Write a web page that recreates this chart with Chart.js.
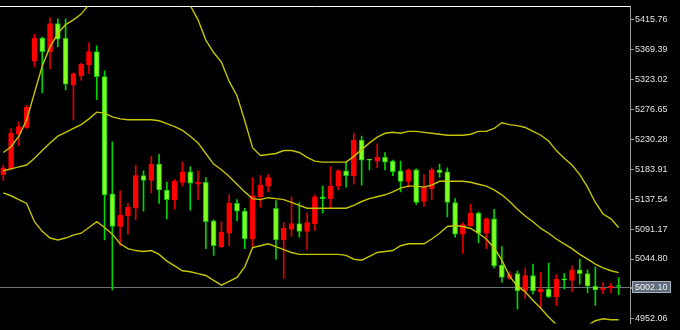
<!DOCTYPE html>
<html><head><meta charset="utf-8">
<script src="https://cdn.jsdelivr.net/npm/chart.js@4"></script>
<style>html,body{margin:0;padding:0;background:#000;overflow:hidden}
#wrap{width:680px;height:330px;position:relative}</style>
</head><body><div id="wrap"><canvas id="c" width="680" height="330"></canvas></div>
<script>
const opens = [5175.70,5184.65,5238.33,5248.76,5351.64,5387.43,5366.55,5409.79,5387.43,5314.37,
5329.28,5345.68,5366.55,5327.79,5145.88,5095.19,5111.59,5123.52,5174.21,5166.76,
5192.11,5151.85,5136.94,5163.78,5180.18,5160.79,5163.78,5104.14,5063.88,5084.75,
5130.97,5119.05,5075.81,5141.41,5157.81,5123.52,5074.32,5090.72,5099.66,5087.74,
5099.66,5141.41,5138.43,5157.81,5181.67,5174.21,5229.38,5198.82,5196.58,5202.54,
5196.58,5181.67,5165.27,5183.16,5133.96,5153.34,5183.16,5180.18,5132.47,5083.26,
5096.68,5116.06,5084.75,5107.12,5035.55,5014.68,5022.13,4995.29,5019.15,4993.80,
4998.28,4986.35,5013.19,5011.69,5028.10,5022.13,5002.75,4996.78,4999.77,5003.20];
const highs = [5190.61,5247.27,5257.71,5283.06,5393.39,5388.92,5418.74,5417.25,5417.25,5333.75,
5348.66,5379.97,5375.50,5336.73,5226.40,5150.36,5130.97,5190.61,5181.67,5204.03,
5207.02,5163.78,5168.25,5195.09,5187.63,5181.67,5171.23,5105.63,5102.65,5144.39,
5136.94,5123.52,5171.23,5174.21,5175.70,5135.45,5101.15,5141.41,5132.47,5116.06,
5144.39,5157.81,5187.63,5183.16,5195.09,5239.82,5235.34,5199.56,5223.42,5210.00,
5198.07,5196.58,5184.65,5184.65,5175.70,5186.14,5192.11,5186.14,5138.43,5101.15,
5129.48,5117.56,5108.61,5122.03,5063.88,5025.11,5026.60,5031.08,5037.04,5023.62,
5038.53,5020.64,5022.13,5034.06,5044.50,5028.10,5032.57,5008.71,5007.22,5016.17];
const lows = [5166.76,5183.16,5220.43,5247.27,5342.70,5302.44,5339.71,5374.01,5306.91,5260.69,
5321.82,5332.26,5292.00,5074.32,4996.78,5065.37,5083.26,5105.63,5119.05,5147.38,
5130.97,5107.12,5122.03,5157.81,5120.54,5136.94,5060.90,5050.46,5062.39,5065.37,
5104.14,5060.90,5063.88,5125.01,5148.87,5044.50,5014.68,5080.28,5078.79,5059.41,
5089.23,5116.06,5123.52,5151.85,5156.32,5160.79,5159.30,5183.16,5186.14,5183.16,
5174.21,5148.87,5156.32,5129.48,5126.50,5136.94,5171.23,5110.10,5078.79,5053.44,
5095.19,5069.84,5060.90,5031.08,5008.71,5013.19,4966.96,4983.37,4990.82,4968.46,
4984.86,4972.93,4998.28,4993.80,5005.73,4992.31,4972.93,4990.82,4992.31,4989.33];
const closes = [5186.14,5239.82,5250.25,5280.07,5387.43,5366.55,5409.79,5385.94,5315.86,5332.26,
5347.17,5366.55,5327.79,5144.39,5095.19,5113.08,5125.01,5174.21,5166.76,5192.11,
5151.85,5136.94,5165.27,5180.18,5162.29,5163.78,5102.65,5065.37,5086.24,5130.97,
5119.05,5075.81,5142.90,5159.30,5171.23,5074.32,5092.21,5099.66,5087.74,5101.15,
5141.41,5138.43,5157.81,5181.67,5174.21,5229.38,5198.07,5198.07,5202.54,5195.09,
5180.18,5165.27,5183.16,5132.47,5156.32,5183.16,5178.69,5132.47,5083.26,5098.17,
5116.06,5084.75,5107.12,5034.06,5016.17,5020.64,4995.29,5019.15,4995.29,4998.28,
4986.35,5013.19,5012.44,5028.10,5022.13,5002.75,4996.78,4999.77,5002.75,5002.10];
const bbUpper = [5210.0,5218.9,5235.3,5260.7,5302.4,5344.2,5374.0,5394.9,5408.3,5415.8,
5424.7,5439.6,5448.6,5457.5,5469.4,5475.4,5478.4,5479.9,5479.9,5478.4,
5473.9,5466.5,5457.5,5447.1,5438.1,5415.8,5384.4,5365.1,5350.2,5320.3,
5298.0,5259.2,5217.5,5205.5,5207.0,5208.5,5213.0,5213.0,5210.0,5202.5,
5196.6,5195.1,5195.1,5195.1,5195.1,5204.0,5214.5,5224.9,5233.9,5239.8,
5241.3,5239.8,5242.8,5242.8,5241.3,5239.8,5238.3,5236.8,5236.8,5236.8,
5238.3,5242.8,5242.8,5247.3,5256.2,5253.2,5251.7,5248.8,5242.8,5236.8,
5227.9,5213.0,5201.1,5190.6,5175.7,5156.3,5132.5,5114.6,5107.1,5093.7];
const bbMiddle = [5181.7,5184.7,5187.6,5190.6,5201.1,5213.0,5224.9,5235.3,5241.3,5247.3,
5253.2,5262.2,5272.6,5271.1,5265.2,5262.2,5260.7,5260.7,5260.7,5260.7,
5259.2,5254.7,5250.3,5244.3,5235.3,5224.9,5208.5,5192.1,5183.2,5172.7,
5160.8,5148.9,5138.4,5136.9,5139.9,5138.4,5136.9,5132.5,5128.0,5123.5,
5123.5,5123.5,5123.5,5123.5,5123.5,5128.0,5134.0,5138.4,5141.4,5144.4,
5148.9,5154.8,5157.8,5157.8,5156.3,5159.3,5165.3,5165.3,5165.3,5165.3,
5163.8,5160.8,5157.8,5151.9,5144.4,5134.0,5122.0,5111.6,5102.7,5092.2,
5084.8,5075.8,5068.4,5060.9,5052.0,5044.5,5037.0,5031.1,5026.6,5023.6];
const bbLower = [5147.4,5142.9,5136.9,5131.0,5102.7,5087.7,5077.3,5074.3,5077.3,5081.8,
5084.8,5093.7,5102.7,5093.7,5083.3,5068.4,5060.9,5057.9,5056.4,5057.9,
5052.0,5041.5,5034.1,5026.6,5025.1,5022.1,5019.2,5011.7,5004.2,5010.2,
5016.2,5032.6,5062.4,5065.4,5068.4,5063.9,5059.4,5054.9,5052.0,5052.0,
5052.0,5052.0,5052.0,5052.0,5050.5,5044.5,5043.0,5049.0,5054.9,5056.4,
5057.9,5065.4,5068.4,5068.4,5068.4,5075.8,5084.8,5095.2,5096.7,5095.2,
5092.2,5084.8,5075.8,5062.4,5043.0,5017.7,5002.7,4993.8,4980.4,4968.5,
4955.0,4943.1,4935.7,4932.7,4934.2,4941.6,4949.1,4952.1,4950.6,4950.6];
const yTickValues = [5415.76,5369.39,5323.02,5276.65,5230.28,5183.91,5137.54,5091.17,5044.80,4998.43,4952.06];
const lastPrice = 5002.10;

const idx = closes.map((_, i) => i);
const isUp = idx.map(i => closes[i] >= opens[i]);
const BAND = '#c4c400';

const pricePlugin = {
  id: 'pricePlugin',
  beforeDatasetsDraw(chart) {
    const {ctx, chartArea: a, scales: {y}} = chart;
    const py = Math.round(y.getPixelForValue(lastPrice)) + 0.5;
    ctx.save();
    ctx.strokeStyle = '#6c737b';
    ctx.lineWidth = 1;
    ctx.beginPath(); ctx.moveTo(a.left, py); ctx.lineTo(a.right, py); ctx.stroke();
    ctx.restore();
  },
  afterDraw(chart) {
    const {ctx, chartArea: a, scales: {y}} = chart;
    const py = Math.round(y.getPixelForValue(lastPrice));
    ctx.save();
    ctx.fillStyle = '#5d6b7b';
    ctx.fillRect(a.right + 2, py - 6, 39, 12);
    ctx.strokeStyle = '#a7b0ba';
    ctx.lineWidth = 1;
    ctx.strokeRect(a.right + 2.5, py - 5.5, 38, 11);
    ctx.strokeStyle = '#9a9a9a';
    ctx.beginPath(); ctx.moveTo(a.right, py + 0.5); ctx.lineTo(a.right + 3, py + 0.5); ctx.stroke();
    ctx.fillStyle = '#f0f2f4';
    ctx.font = '9px "Liberation Sans"';
    ctx.textBaseline = 'middle';
    ctx.textAlign = 'left';
    ctx.fillText(lastPrice.toFixed(2), a.right + 5, py + 0.5);
    ctx.restore();
  }
};

new Chart(document.getElementById('c'), {
  type: 'bar',
  data: {
    datasets: [
      { type: 'line', label: 'upper', data: idx.map(i => ({x: i, y: bbUpper[i]})), borderColor: BAND, borderWidth: 1.4, pointRadius: 0, tension: 0, order: 0 },
      { type: 'line', label: 'middle', data: idx.map(i => ({x: i, y: bbMiddle[i]})), borderColor: BAND, borderWidth: 1.4, pointRadius: 0, tension: 0, order: 0 },
      { type: 'line', label: 'lower', data: idx.map(i => ({x: i, y: bbLower[i]})), borderColor: BAND, borderWidth: 1.4, pointRadius: 0, tension: 0, order: 0 },
      { label: 'body', data: idx.map(i => ({x: i, y: [opens[i], closes[i]]})),
        backgroundColor: idx.map(i => isUp[i] ? '#ff0000' : '#80ff20'),
        borderColor: idx.map(i => isUp[i] ? '#ff0000' : '#10c010'),
        borderWidth: 1, borderSkipped: false, barThickness: 5, minBarLength: 1, grouped: false, order: 1 },
      { label: 'wick', data: idx.map(i => ({x: i, y: [lows[i], highs[i]]})),
        backgroundColor: idx.map(i => isUp[i] ? '#e00000' : '#00d400'),
        borderWidth: 0, barThickness: 1, grouped: false, order: 2 }
    ]
  },
  options: {
    responsive: false, animation: false, devicePixelRatio: 1,
    layout: { padding: 0 },
    plugins: { legend: { display: false }, tooltip: { enabled: false } },
    scales: {
      x: { type: 'linear', position: 'top', min: -0.4236, max: 80.449, offset: false,
        ticks: { display: false }, grid: { display: false, drawTicks: false },
        border: { display: true, color: '#ffffff', width: 1 } },
      y: { type: 'linear', position: 'right', min: 4944.60, max: 5436.63,
        afterFit: s => { s.width = 50; },
        afterBuildTicks: s => { s.ticks = yTickValues.map(v => ({value: v})); },
        ticks: { autoSkip: false, color: '#e2e2e2', padding: 1,
          font: { family: 'Liberation Sans', size: 9 },
          callback: v => Number(v).toFixed(2) },
        grid: { drawOnChartArea: false, drawTicks: true, tickLength: 4, color: '#9a9a9a' },
        border: { display: true, color: '#9a9a9a', width: 1 } }
    }
  },
  plugins: [pricePlugin]
});
</script></body></html>
